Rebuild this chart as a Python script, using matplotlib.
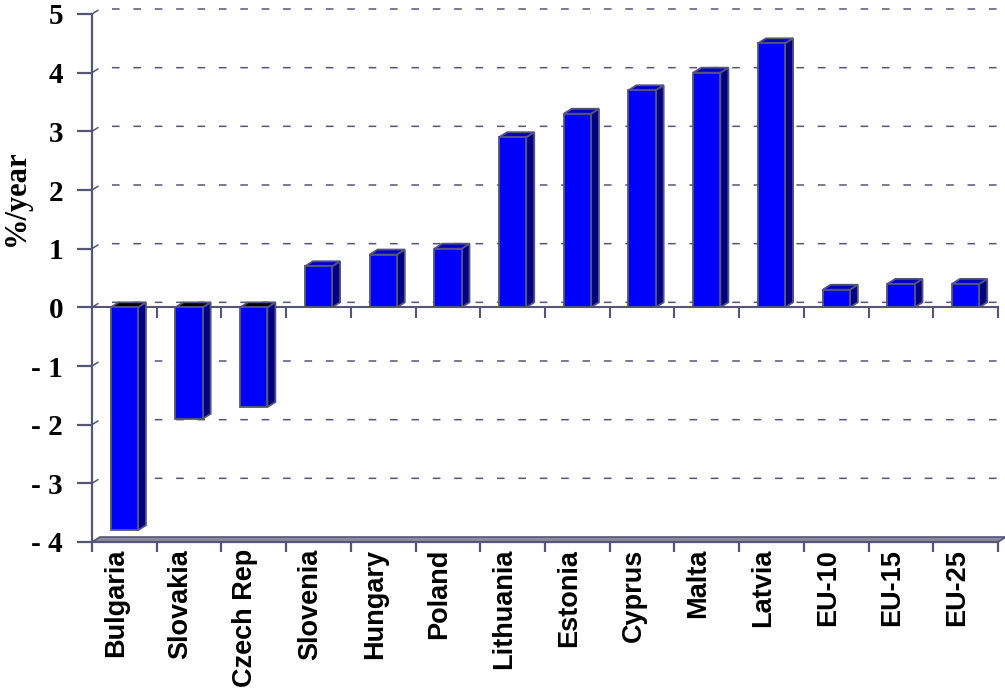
import matplotlib
matplotlib.use("Agg")
import matplotlib.pyplot as plt
import matplotlib.transforms as mtransforms
from matplotlib.patches import Polygon
import numpy as np

countries = ["Bulgaria", "Slovakia", "Czech Rep", "Slovenia", "Hungary", "Poland",
             "Lithuania", "Estonia", "Cyprus", "Malta", "Latvia", "EU-10", "EU-15", "EU-25"]
values = [-3.8, -1.9, -1.7, 0.7, 0.9, 1.0, 2.9, 3.3, 3.7, 4.0, 4.5, 0.3, 0.4, 0.4]
yticks = [-4, -3, -2, -1, 0, 1, 2, 3, 4, 5]
ytick_labels = ["- 4", "- 3", "- 2", "- 1", "0", "1", "2", "3", "4", "5"]

edge = "#55557a"
front = "#0000ff"
side = "#000080"
top = "#0000c8"

fig = plt.figure(figsize=(10.05, 6.9), dpi=100)
ax = fig.add_axes([92 / 1005, 1 - 542 / 690, (998 - 92) / 1005, (542 - 14) / 690])
ax.set_xlim(0, len(countries))
ax.set_ylim(-4, 5)

# depth of the fake 3D look, in data units (8 px across, 5 px up)
dx = 8 / 64.7
dy = 5 / 58.67
n = len(countries)

# back wall gridlines
for v in yticks[1:]:
    ax.plot([0, dx, n + dx], [v, v + dy, v + dy], ls=(0, (5, 9)), color=edge,
            lw=1.1, zorder=1, clip_on=False)

# floor
ax.add_patch(Polygon([(0, -4), (n, -4), (n + dx, -4 + dy), (dx, -4 + dy)],
                     closed=True, facecolor="#8c8c9c", edgecolor=edge, lw=1.2,
                     zorder=1, clip_on=False))

# zero line with little ticks
ax.plot([0, n], [0, 0], color=edge, lw=1.5, zorder=2, clip_on=False)
ax.vlines(np.arange(1, n + 1), -0.18, 0, color=edge, lw=1.5, zorder=2, clip_on=False)

w = 0.42
for i, v in enumerate(values):
    x0 = i + 0.5 - w / 2
    x1 = x0 + w
    lo, hi = min(0, v), max(0, v)
    ax.add_patch(Polygon([(x1, lo), (x1 + dx, lo + dy), (x1 + dx, hi + dy), (x1, hi)],
                         closed=True, facecolor=side, edgecolor=edge, lw=1.3, zorder=3,
                         clip_on=False))
    ax.add_patch(Polygon([(x0, hi), (x1, hi), (x1 + dx, hi + dy), (x0 + dx, hi + dy)],
                         closed=True, facecolor=top if v > 0 else "#000000",
                         edgecolor=edge, lw=1.3, zorder=3, clip_on=False))
    ax.bar(i + 0.5, v, width=w, color=front, edgecolor=edge, lw=1.3, zorder=4)

for s in ["top", "right"]:
    ax.spines[s].set_visible(False)
ax.spines["left"].set_color(edge)
ax.spines["left"].set_linewidth(1.6)
ax.spines["bottom"].set_color(edge)
ax.spines["bottom"].set_linewidth(1.6)

ax.set_yticks(yticks)
ax.set_yticklabels(ytick_labels, fontfamily="Liberation Serif", fontweight="bold", fontsize=21)
ax.tick_params(axis="y", direction="out", length=10.8, width=1.6, color=edge, pad=10)

ax.set_xticks(np.arange(0, n + 1))
ax.set_xticklabels([])
ax.tick_params(axis="x", which="major", direction="out", length=7.5, width=1.6, color=edge)
ax.set_xticks(np.arange(n) + 0.5, minor=True)
ax.set_xticklabels(countries, minor=True, rotation=90, fontfamily="Liberation Sans",
                   fontweight="bold", fontsize=19.5)
ax.tick_params(axis="x", which="minor", length=0, pad=5)
shift = mtransforms.ScaledTranslation(-6 / 72, 0, fig.dpi_scale_trans)
for lab in ax.get_xticklabels(minor=True):
    lab.set_transform(lab.get_transform() + shift)

fig.text(16 / 1005, 1 - 198 / 690, "%/year", rotation=90, ha="center", va="center",
         fontfamily="Liberation Serif", fontweight="bold", fontsize=22)

fig.savefig("out.png", dpi=100)
